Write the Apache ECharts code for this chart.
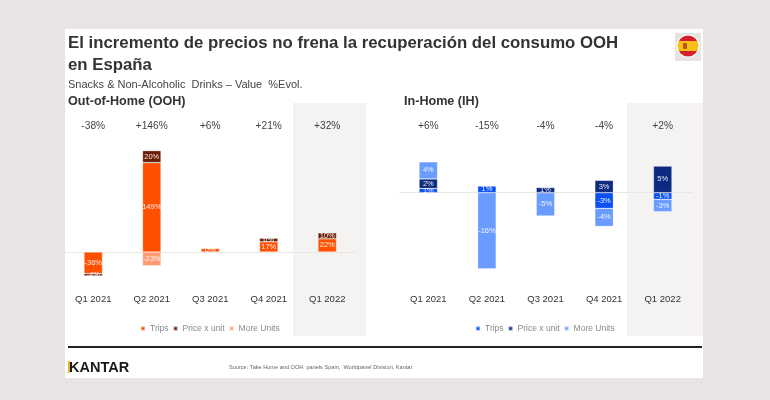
<!DOCTYPE html>
<html>
<head>
<meta charset="utf-8">
<style>
  html, body { margin: 0; padding: 0; background: #e8e4e3; }
  #main { width: 770px; height: 400px; }
</style>
<script src="https://cdn.jsdelivr.net/npm/echarts@6/dist/echarts.min.js"></script>
</head>
<body>
<div id="main"></div>
<script>
const quarters = ['Q1 2021', 'Q2 2021', 'Q3 2021', 'Q4 2021', 'Q1 2022'];
const seriesNames = ['Trips', 'Price x unit', 'More Units'];

// Out-of-Home
const oohTotals = ['-38%', '+146%', '+6%', '+21%', '+32%'];
const oohTrips = [-36, 149, 6, 17, 22];
const oohPrice = [-4, 20, 1, 6, 10];
const oohUnits = [null, -23, null, null, null];
const oohTripsLabels = ['-36%', '149%', '6%', '17%', '22%'];
const oohPriceLabels = ['-4%', '20%', '', '6%', '10%'];
const oohUnitsLabels = ['', '-23%', '', '', ''];

// In-Home: las barras se leen del dibujo, las etiquetas van redondeadas
const ihTotals = ['+6%', '-15%', '-4%', '-4%', '+2%'];
const ihTrips = [0.9, 1.4, null, -3.3, -1.4];
const ihPrice = [2, null, 1.1, 2.6, 5.6];
const ihUnits = [3.6, -16, -4.9, -3.8, -2.6];
const ihTripsLabels = ['1%', '1%', '', '-3%', '-1%'];
const ihPriceLabels = ['2%', '', '1%', '3%', '5%'];
const ihUnitsLabels = ['4%', '-16%', '-5%', '-4%', '-3%'];

const FONT = '"Liberation Sans", Arial, sans-serif';
const oohColors = ['#ff5000', '#6b1d06', '#ff9b72'];
const ihColors = ['#0a50f5', '#0b2a80', '#6a9bff'];

/**
 * 一组堆叠柱
 */
function barSeries(index, name, data, labels, color, axisIndex) {
  const s = {
    name: name,
    type: 'bar',
    stack: 'total' + axisIndex,
    xAxisIndex: axisIndex * 2,
    yAxisIndex: axisIndex,
    barWidth: 18.5,
    itemStyle: { color: color, borderColor: 'rgba(255,255,255,0.45)', borderWidth: 0.6 },
    label: {
      show: true,
      position: 'inside',
      color: '#fff',
      fontFamily: FONT,
      fontSize: 7.5,
      opacity: 0.9,
      formatter: p => labels[p.dataIndex]
    },
    data: data
  };
  if (index === 0) {
    s.markLine = {
      silent: true,
      symbol: 'none',
      z: 1,
      label: { show: false },
      lineStyle: { color: '#e9e7e5', width: 1.2, type: 'solid' },
      data: [{ yAxis: 0 }]
    };
  }
  return s;
}

function bottomAxis(gridIndex, margin) {
  return {
    type: 'category',
    gridIndex: gridIndex,
    position: 'bottom',
    data: quarters,
    axisLine: { show: false },
    axisTick: { show: false },
    axisLabel: { color: '#333', fontFamily: FONT, fontSize: 9.5, margin: margin }
  };
}

function topAxis(gridIndex, totals, margin) {
  return {
    type: 'category',
    gridIndex: gridIndex,
    position: 'top',
    data: totals,
    axisLine: { show: false },
    axisTick: { show: false },
    axisLabel: { color: '#444', fontFamily: FONT, fontSize: 10.2, margin: margin }
  };
}

function legend(left, colors) {
  return {
    left: left,
    top: 319,
    itemWidth: 4,
    itemHeight: 4,
    itemGap: 4,
    icon: 'rect',
    selectedMode: false,
    textStyle: { color: '#8a8a8a', fontFamily: FONT, fontSize: 8.5 },
    data: seriesNames.map((name, i) => ({ name: name, itemStyle: { color: colors[i] } }))
  };
}

const myChart = echarts.init(document.getElementById('main'), null, { renderer: 'canvas' });

const option = {
  animation: false,
  backgroundColor: 'transparent',
  title: [
    { text: 'El incremento de precios no frena la recuperación del consumo OOH\nen España', left: 63, top: 28,
      textStyle: { color: '#333', fontFamily: FONT, fontSize: 16.8, fontWeight: 'bold', lineHeight: 21.5 } },
    { text: 'Snacks & Non-Alcoholic  Drinks – Value  %Evol.', left: 63, top: 74,
      textStyle: { color: '#444', fontFamily: FONT, fontSize: 11, fontWeight: 'normal' } },
    { text: 'Out-of-Home (OOH)', left: 63, top: 90,
      textStyle: { color: '#333', fontFamily: FONT, fontSize: 12.6, fontWeight: 'bold' } },
    { text: 'In-Home (IH)', left: 399, top: 90,
      textStyle: { color: '#333', fontFamily: FONT, fontSize: 12.6, fontWeight: 'bold' } },
    { text: 'Source: Take Home and OOH  panels Spain,  Worldpanel Division, Kantar', left: 224, top: 359,
      textStyle: { color: '#666', fontFamily: FONT, fontSize: 5.6, fontWeight: 'normal' } },
    { text: 'KANTAR', left: 64, top: 355,
      textStyle: { color: '#1a1a1a', fontFamily: FONT, fontSize: 14.5, fontWeight: 'bold' } }
  ],
  legend: [legend(135, oohColors), legend(470, ihColors)],
  grid: [
    { left: 64, width: 292.5, top: 132, height: 150 },
    { left: 399, width: 293, top: 145.2, height: 142.5 }
  ],
  xAxis: [
    bottomAxis(0, 12), topAxis(0, oohTotals, 1),
    bottomAxis(1, 7), topAxis(1, ihTotals, 14)
  ],
  yAxis: [
    { type: 'value', gridIndex: 0, min: -50, max: 200, show: false },
    { type: 'value', gridIndex: 1, min: -20, max: 10, show: false }
  ],
  series: [
    barSeries(0, seriesNames[0], oohTrips, oohTripsLabels, oohColors[0], 0),
    barSeries(1, seriesNames[1], oohPrice, oohPriceLabels, oohColors[1], 0),
    barSeries(2, seriesNames[2], oohUnits, oohUnitsLabels, oohColors[2], 0),
    barSeries(0, seriesNames[0], ihTrips, ihTripsLabels, ihColors[0], 1),
    barSeries(1, seriesNames[1], ihPrice, ihPriceLabels, ihColors[1], 1),
    barSeries(2, seriesNames[2], ihUnits, ihUnitsLabels, ihColors[2], 1)
  ],
  graphic: [
    // fondo blanco y columnas resaltadas
    { type: 'rect', z: -10, shape: { x: 65, y: 29, width: 638, height: 349 }, style: { fill: '#fff' } },
    { type: 'rect', z: -9, shape: { x: 293, y: 103, width: 73, height: 233 }, style: { fill: '#f4f3f1' } },
    { type: 'rect', z: -9, shape: { x: 627, y: 103, width: 76, height: 233 }, style: { fill: '#f4f3f1' } },
    // bandera
    { type: 'rect', z: -8, shape: { x: 675, y: 33, width: 26, height: 28 }, style: { fill: '#e6e4e2' } },
    { type: 'circle', z: -7, shape: { cx: 688, cy: 46, r: 11.5 }, style: { fill: '#fff' } },
    {
      type: 'circle', z: -6, shape: { cx: 688, cy: 46, r: 10.5 },
      style: {
        fill: new echarts.graphic.LinearGradient(0, 0, 0, 1, [
          { offset: 0, color: '#d5202a' }, { offset: 0.27, color: '#d5202a' },
          { offset: 0.27, color: '#f6c018' }, { offset: 0.73, color: '#f6c018' },
          { offset: 0.73, color: '#d5202a' }, { offset: 1, color: '#d5202a' }
        ])
      }
    },
    { type: 'rect', z: -5, shape: { x: 683, y: 43, width: 4, height: 6, r: 1 }, style: { fill: '#b5541f' } },
    // pie
    { type: 'rect', z: -4, shape: { x: 68, y: 346, width: 634, height: 2 }, style: { fill: '#222' } },
    { type: 'rect', z: 10, shape: { x: 68, y: 361, width: 2, height: 12 }, style: { fill: '#e2b731' } }
  ]
};
myChart.setOption(option);
</script>
</body>
</html>
